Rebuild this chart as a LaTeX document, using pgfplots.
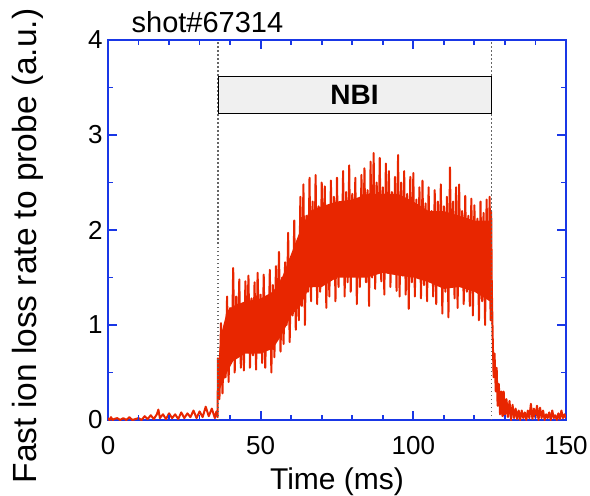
\documentclass[border=0pt]{standalone}
\usepackage{fontspec}
\setmainfont{Liberation Sans}
\usepackage{pgfplots}
\pgfplotsset{compat=1.18}
\definecolor{sigred}{RGB}{232,38,0}
\definecolor{frameblue}{RGB}{25,55,230}
\definecolor{nbigray}{RGB}{240,240,240}
\begin{document}
\begin{tikzpicture}
\begin{axis}[
  at={(0,0)}, anchor=south west,
  scale only axis, width=458pt, height=380pt,
  xmin=0, xmax=150, ymin=0, ymax=4,
  xtick={0,50,100,150}, ytick={0,1,2,3,4},
  minor xtick={10,20,30,40,60,70,80,90,110,120,130,140},
  minor ytick={0.5,1.5,2.5,3.5},
  tick align=inside,
  major tick length=9pt, minor tick length=5pt,
  tick style={draw=frameblue, line width=1.8pt},
  axis line style={draw=frameblue, line width=2.2pt},
  clip mode=individual,
  /pgf/number format/assume math mode=true,
  tick label style={font=\fontsize{26}{30}\selectfont, text=black},
  xticklabel style={yshift=-13pt},
  yticklabel style={xshift=-2pt},
  xlabel={Time (ms)}, ylabel={Fast ion loss rate to probe (a.u.)},
  xlabel style={font=\fontsize{30}{34}\selectfont, yshift=-6pt},
  ylabel style={font=\fontsize{33.5}{38}\selectfont, yshift=38pt, xshift=-16pt},
]
% solid core of the signal
\addplot[fill=sigred, draw=none] coordinates {
(36,0.55)(37,0.9)(39,1.15)(41,1.2)(45,1.25)(50,1.28)(54,1.35)(57,1.5)(60,1.75)(63,2.0)(66,2.2)(70,2.25)(75,2.3)(80,2.32)(85,2.38)(90,2.38)(95,2.38)(100,2.3)(105,2.2)(110,2.2)(115,2.15)(120,2.1)(125.3,2.1)(125.6,1.6)(126,0.75)
(126,0.5)(125.5,1.3)(125,1.25)(120,1.35)(115,1.4)(110,1.38)(105,1.45)(100,1.5)(95,1.52)(90,1.55)(85,1.5)(80,1.5)(75,1.5)(70,1.4)(66,1.4)(63,1.2)(60,1.1)(57,0.9)(54,0.75)(50,0.7)(45,0.7)(41,0.62)(39,0.5)(37,0.35)(36,0.28)
} -- cycle;
% noisy signal
\addplot[sigred, line width=2pt, line join=round] coordinates {
(0,0.02)(0.5,0)(1,0.03)(1.5,0)(2,0.01)(3,0.02)(4,0)(5,0.02)(6,0)(7,0.03)(8,0)(9,0.01)(10,0.02)(11,0)(12,0.04)(13,0.01)(14,0.05)(15,0.01)(16,0.06)(16.5,0.11)(17,0.02)(18,0.06)(19,0.01)(20,0.07)(21,0.02)(22,0.06)(23,0.01)(24,0.08)(25,0.02)(26,0.07)(27,0.03)(28,0.1)(29,0.02)(30,0.09)(31,0.03)(32,0.14)(33,0.04)(34,0.12)(35,0.02)(35.5,0.09)(35.9,0.03)
(36,0.65)(36.5,0.22)(37,1.02)(37.5,0.28)(38,0.95)(38.5,0.45)(39,1.30)(39.5,0.40)(40,1.18)(40.5,0.62)
(41,1.60)(41.5,0.50)(42,1.30)(42.5,0.75)(43,1.48)(43.5,0.55)(44,1.22)(44.5,0.52)(45,1.46)(45.5,0.80)
(46,1.52)(46.5,0.55)(47,1.28)(47.5,0.68)(48,1.45)(48.5,0.53)(49,1.55)(49.5,0.85)(50,1.32)(50.5,0.60)
(51,1.53)(51.5,0.55)(52,1.25)(52.5,0.78)(53,1.58)(53.5,0.50)(54,1.42)(54.5,0.66)(55,1.62)(55.5,0.90)
(56,1.77)(56.5,0.72)(57,1.50)(57.5,0.80)(58,1.66)(58.5,1.00)(59,1.97)(59.5,0.82)(60,1.70)(60.5,1.10)
(61,2.10)(61.5,0.95)(62,1.88)(62.5,1.05)(63,2.35)(63.5,1.20)(64,2.48)(64.5,1.00)(65,2.15)(65.5,1.35)
(66,2.55)(66.5,1.25)(67,2.30)(67.5,1.45)(68,2.58)(68.5,1.22)(69,2.25)(69.5,1.35)(70,2.50)(70.5,1.55)
(71,2.46)(71.5,1.18)(72,2.20)(72.5,1.30)(73,2.52)(73.5,1.50)(74,2.35)(74.5,1.25)(75,2.55)(75.5,1.40)
(76,2.28)(76.5,1.60)(77,2.62)(77.5,1.30)(78,2.40)(78.5,1.45)(79,2.68)(79.5,1.35)(80,2.38)(80.5,1.55)
(81,2.55)(81.5,1.22)(82,2.30)(82.5,1.40)(83,2.58)(83.5,1.62)(84,2.65)(84.5,1.45)(85,2.42)(85.5,1.20)
(86,2.72)(86.5,1.50)(87,2.81)(87.5,1.38)(88,2.50)(88.5,1.65)(89,2.76)(89.5,1.46)(90,2.45)(90.5,1.32)
(91,2.70)(91.5,1.55)(92,2.62)(92.5,1.40)(93,2.40)(93.5,1.60)(94,2.56)(94.5,1.36)(95,2.79)(95.5,1.30)
(96,2.50)(96.5,1.52)(97,2.62)(97.5,1.32)(98,2.38)(98.5,1.17)(99,2.56)(99.5,1.45)(100,2.60)(100.5,1.30)
(101,2.32)(101.5,1.58)(102,2.45)(102.5,1.28)(103,2.52)(103.5,1.42)(104,2.28)(104.5,1.25)(105,2.45)(105.5,1.50)
(106,2.20)(106.5,1.30)(107,2.42)(107.5,1.22)(108,2.30)(108.5,1.45)(109,2.48)(109.5,1.12)(110,2.25)(110.5,1.35)
(111,2.35)(111.5,1.08)(112,2.66)(112.5,1.40)(113,2.30)(113.5,1.28)(114,2.45)(114.5,1.18)(115,2.48)(115.5,1.42)
(116,2.20)(116.5,1.22)(117,2.36)(117.5,1.35)(118,2.15)(118.5,1.20)(119,2.33)(119.5,1.10)(120,2.26)(120.5,1.38)
(121,2.12)(121.5,1.05)(122,2.30)(122.5,1.25)(123,2.18)(123.5,1.00)(124,2.32)(124.5,1.30)(125,2.35)(125.3,1.05)
(125.5,2.2)(125.7,1.4)(126,0.87)(126.3,0.45)(126.6,0.7)(127,0.3)(127.3,0.55)(127.6,0.15)(128,0.38)(128.4,0.06)(128.8,0.3)(129.2,0.04)(129.6,0.3)(130,0.02)(130.5,0.22)(131,0.03)(131.5,0.2)(132,0)(132.5,0.16)(133,0.02)(133.5,0.12)(134,0.01)(134.5,0.1)(135,0)(135.5,0.1)(136,0.02)(136.5,0.08)(137,0)(137.5,0.1)(138,0.02)(138.5,0.17)(139,0.01)(139.5,0.12)(140,0.02)(140.5,0.15)(141,0)(141.5,0.13)(142,0.02)(142.5,0.1)(143,0)(143.5,0.06)(144,0.02)(144.5,0.08)(145,0)(145.5,0.1)(146,0.02)(146.5,0.05)(147,0)(147.5,0.07)(148,0.01)(148.5,0.1)(149,0.02)(149.5,0.06)(150,0.02)
};
% NBI markers
\draw[black!60, line width=1.2pt, dash pattern=on 1.5pt off 2.5pt] (axis cs:36,0) -- (axis cs:36,4);
\draw[black!60, line width=1.2pt, dash pattern=on 1.5pt off 2.5pt] (axis cs:125.5,0) -- (axis cs:125.5,4);
\draw[fill=nbigray, draw=black, line width=0.8pt] (axis cs:36,3.23) rectangle (axis cs:125.5,3.62);
\node[font=\bfseries\fontsize{28}{32}\selectfont] at (axis cs:80.75,3.425) {NBI};
% inward blue tick marks on all four sides
\draw[frameblue, line width=1.8pt]
  (axis cs:10,0) -- (axis cs:10,0.053) (axis cs:20,0) -- (axis cs:20,0.053) (axis cs:30,0) -- (axis cs:30,0.053) (axis cs:40,0) -- (axis cs:40,0.053)
  (axis cs:50,0) -- (axis cs:50,0.095) (axis cs:60,0) -- (axis cs:60,0.053) (axis cs:70,0) -- (axis cs:70,0.053) (axis cs:80,0) -- (axis cs:80,0.053)
  (axis cs:90,0) -- (axis cs:90,0.053) (axis cs:100,0) -- (axis cs:100,0.095) (axis cs:110,0) -- (axis cs:110,0.053) (axis cs:120,0) -- (axis cs:120,0.053)
  (axis cs:130,0) -- (axis cs:130,0.053) (axis cs:140,0) -- (axis cs:140,0.053)
  (axis cs:10,4) -- (axis cs:10,3.947) (axis cs:20,4) -- (axis cs:20,3.947) (axis cs:30,4) -- (axis cs:30,3.947) (axis cs:40,4) -- (axis cs:40,3.947)
  (axis cs:50,4) -- (axis cs:50,3.905) (axis cs:60,4) -- (axis cs:60,3.947) (axis cs:70,4) -- (axis cs:70,3.947) (axis cs:80,4) -- (axis cs:80,3.947)
  (axis cs:90,4) -- (axis cs:90,3.947) (axis cs:100,4) -- (axis cs:100,3.905) (axis cs:110,4) -- (axis cs:110,3.947) (axis cs:120,4) -- (axis cs:120,3.947)
  (axis cs:130,4) -- (axis cs:130,3.947) (axis cs:140,4) -- (axis cs:140,3.947)
  (axis cs:0,0.5) -- (axis cs:1.64,0.5) (axis cs:0,1) -- (axis cs:2.95,1) (axis cs:0,1.5) -- (axis cs:1.64,1.5) (axis cs:0,2) -- (axis cs:2.95,2)
  (axis cs:0,2.5) -- (axis cs:1.64,2.5) (axis cs:0,3) -- (axis cs:2.95,3) (axis cs:0,3.5) -- (axis cs:1.64,3.5)
  (axis cs:150,0.5) -- (axis cs:148.36,0.5) (axis cs:150,1) -- (axis cs:147.05,1) (axis cs:150,1.5) -- (axis cs:148.36,1.5) (axis cs:150,2) -- (axis cs:147.05,2)
  (axis cs:150,2.5) -- (axis cs:148.36,2.5) (axis cs:150,3) -- (axis cs:147.05,3) (axis cs:150,3.5) -- (axis cs:148.36,3.5);
\node[anchor=base west, font=\fontsize{29}{33}\selectfont, yshift=8pt] at (rel axis cs:0.044,1) {shot\#67314};
\end{axis}
\pgfresetboundingbox
\path[use as bounding box] (-108pt,-76pt) rectangle (482pt,420pt);
\end{tikzpicture}
\end{document}
